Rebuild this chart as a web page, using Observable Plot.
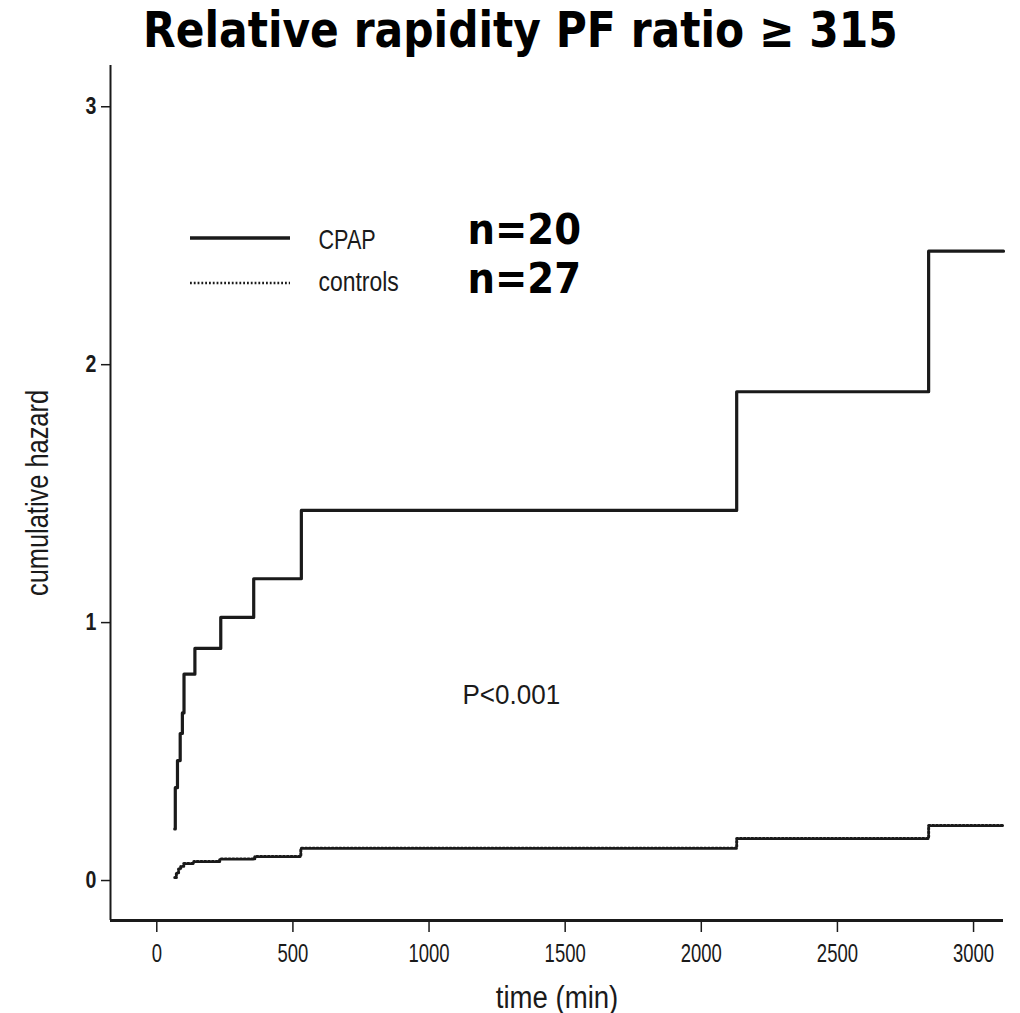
<!DOCTYPE html>
<html><head><meta charset="utf-8">
<script src="https://cdn.jsdelivr.net/npm/d3@7"></script>
<script src="https://cdn.jsdelivr.net/npm/@observablehq/plot@0.6"></script>
<style>
body{margin:0;background:#fff;width:1020px;height:1013px;overflow:hidden;position:relative;}
#title{position:absolute;left:0;top:0;}
#chart{position:absolute;left:0;top:60px;}
</style></head><body>
<svg id="title" width="1020" height="60"><text id="tt" x="0" y="0" font-family="DejaVu Sans, Verdana, sans-serif" font-weight="bold" font-size="49" fill="#000"></text></svg>
<div id="chart"></div>
<script>
// ---- data ----
const titleText = "Relative rapidity PF ratio \u2265 315";
const xLabel = "time (min)";
const yLabel = "cumulative hazard";
const pLabel = "P<0.001";
const legendNames = ["CPAP", "controls"];
const legendCounts = ["n=20", "n=27"];
const xTicks = [0, 500, 1000, 1500, 2000, 2500, 3000];
const yTicks = [0, 1, 2, 3];
const xDomain = [-170, 3110];
const yDomain = [-0.155, 3.16];

const cpapTime   = [66, 68, 76, 86, 94, 100, 140, 235, 356, 531, 2130, 2835, 3110];
const cpapHazard = [0.20, 0.36, 0.465, 0.57, 0.65, 0.80, 0.90, 1.02, 1.17, 1.435, 1.895, 2.44, 2.44];
const ctrlTime   = [66, 72, 80, 88, 99, 136, 231, 360, 529, 2130, 2835, 3110];
const ctrlHazard = [0.012, 0.03, 0.045, 0.055, 0.066, 0.074, 0.083, 0.093, 0.125, 0.163, 0.213, 0.213];

const cpap = cpapTime.map((t, i) => ({time: t, hazard: cpapHazard[i]}));
const ctrl = ctrlTime.map((t, i) => ({time: t, hazard: ctrlHazard[i]}));

const ink = "#1a1a1a";
const sans = "Liberation Sans, Arial, Helvetica, sans-serif";
const bold = "DejaVu Sans, Verdana, sans-serif";

const plot = Plot.plot({
  width: 1020, height: 953,
  marginTop: 5, marginBottom: 93, marginLeft: 110, marginRight: 17,
  style: {fontFamily: sans, fontSize: "23px", color: ink, background: "#fff", overflow: "visible"},
  x: {domain: xDomain, label: null},
  y: {domain: yDomain, label: null},
  marks: [
    Plot.axisX({ticks: xTicks, tickSize: 12, tickPadding: 12, tickFormat: d => String(d), label: null, strokeWidth: 1.5, fontSize: 25}),
    Plot.axisY({ticks: yTicks, tickSize: 9, tickPadding: 5, tickFormat: d => String(d), label: null, strokeWidth: 1.5, fontSize: 23, fontWeight: "bold"}),
    Plot.ruleX([xDomain[0]], {stroke: ink, strokeWidth: 2}),
    Plot.ruleY([yDomain[0]], {stroke: ink, strokeWidth: 3}),
    Plot.line(ctrl, {x: "time", y: "hazard", curve: "step-after", stroke: ink, strokeWidth: 3, strokeDasharray: "1.8,2"}),
    Plot.line(cpap, {x: "time", y: "hazard", curve: "step-after", stroke: ink, strokeWidth: 3.2}),
    Plot.text([xLabel], {frameAnchor: "bottom", dy: 78, fontSize: 31, textAnchor: "middle", lineAnchor: "middle"}),
    Plot.text([yLabel], {frameAnchor: "left", dx: -72, rotate: -90, fontSize: 31, textAnchor: "middle", lineAnchor: "middle"}),
    Plot.text([pLabel], {frameAnchor: "top-left", dx: 352, dy: 638, fontSize: 28, textAnchor: "start", lineAnchor: "bottom"}),
    Plot.text([legendNames[0]], {frameAnchor: "top-left", dx: 208, dy: 183, fontSize: 27, textAnchor: "start", lineAnchor: "bottom"}),
    Plot.text([legendNames[1]], {frameAnchor: "top-left", dx: 208, dy: 225, fontSize: 27, textAnchor: "start", lineAnchor: "bottom"}),
    Plot.text([legendCounts[0]], {frameAnchor: "top-left", dx: 357, dy: 178, fontSize: 42, fontWeight: "bold", fontFamily: bold, textAnchor: "start", lineAnchor: "bottom", fill: "#000"}),
    Plot.text([legendCounts[1]], {frameAnchor: "top-left", dx: 357, dy: 227, fontSize: 42, fontWeight: "bold", fontFamily: bold, textAnchor: "start", lineAnchor: "bottom", fill: "#000"})
  ]
});
document.getElementById("chart").appendChild(plot);

// legend line swatches
const svg = d3.select(plot);
svg.append("line").attr("x1", 190).attr("x2", 290).attr("y1", 178).attr("y2", 178)
  .attr("stroke", ink).attr("stroke-width", 3.4);
svg.append("line").attr("x1", 190).attr("x2", 290).attr("y1", 223).attr("y2", 223)
  .attr("stroke", ink).attr("stroke-width", 2.6).attr("stroke-dasharray", "1.8,2");

// horizontal condensing of text, to mimic the squeezed reference typography
const squeeze = {"time (min)": 0.89, "cumulative hazard": 0.82, "P<0.001": 0.93, "CPAP": 0.8, "controls": 0.85, "n=20": 0.92, "n=27": 0.92};
plot.querySelectorAll("text").forEach(t => {
  const tr = t.getAttribute("transform");
  if (!tr) return;
  const parent = t.parentNode && t.parentNode.getAttribute("aria-label") || "";
  let k = squeeze[t.textContent];
  if (k === undefined) k = parent.includes("x-axis") ? 0.74 : parent.includes("y-axis") ? 0.85 : 1;
  t.setAttribute("transform", tr + ` scale(${k},1)`);
});

// title
const tt = document.getElementById("tt");
tt.textContent = titleText;
const w = tt.getComputedTextLength();
tt.setAttribute("transform", `translate(143,47) scale(${755 / w},1)`);
</script>
</body></html>
